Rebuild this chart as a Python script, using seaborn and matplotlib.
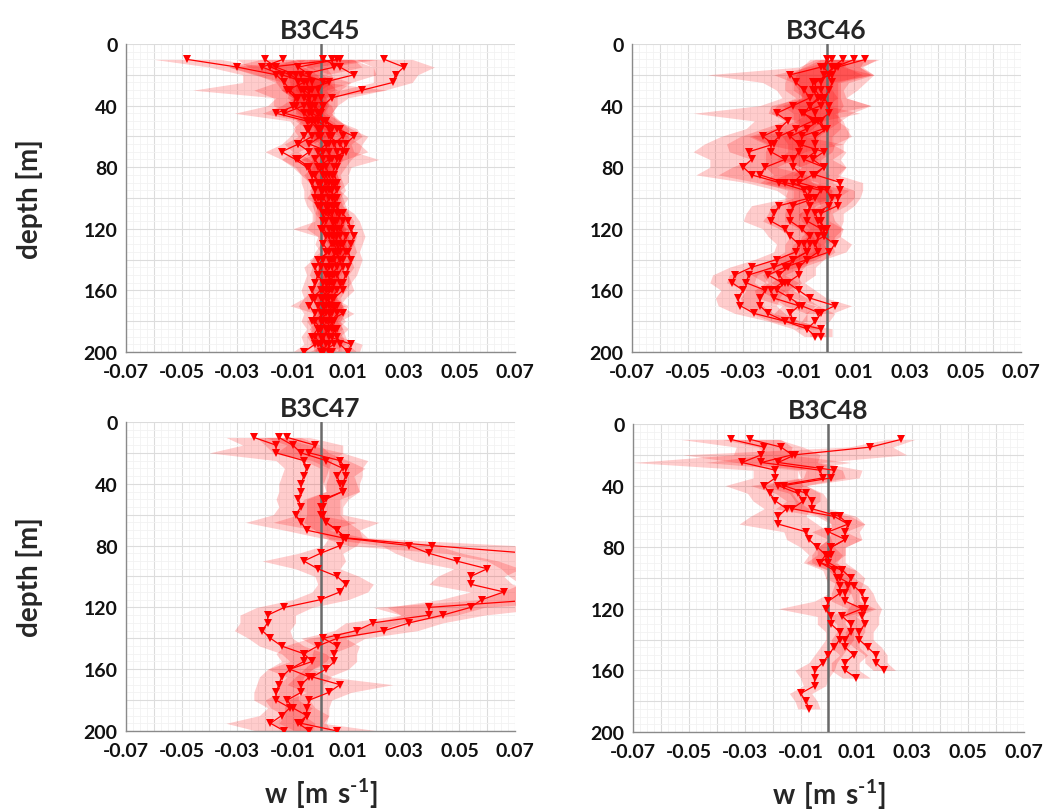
import numpy as np
import seaborn as sns
import matplotlib.pyplot as plt
from matplotlib.ticker import MultipleLocator

# depth of every sample [m]
depth = [10, 15, 20, 25, 30, 35, 40, 45, 50, 55,
         60, 65, 70, 75, 80, 85, 90, 95, 100, 105,
         110, 115, 120, 125, 130, 135, 140, 145, 150, 155,
         160, 165, 170, 175, 180, 185, 190, 195, 200]

######################### B3C45 #############################################
w45_a = [-0.048, -0.030, -0.016, -0.013, -0.011, -0.008, -0.009, -0.016, -0.005, -0.004,
         -0.006, -0.008, -0.014, -0.009, -0.005, -0.003, -0.003, -0.002, -0.002, -0.001,
         0.001, 0.002, 0.001, 0.003, 0.004, 0.002, 0.001, -0.002, -0.001, -0.002,
         -0.003, -0.002, -0.004, -0.002, -0.003, -0.001, -0.003, -0.002, -0.006]
w45_b = [0.023, 0.030, 0.027, 0.026, 0.015, 0.004, 0.001, -0.001, 0.002, 0.006,
         0.012, 0.009, 0.008, 0.006, 0.005, 0.004, 0.005, 0.006, 0.004, 0.005,
         0.008, 0.010, 0.011, 0.012, 0.011, 0.010, 0.011, 0.010, 0.009, 0.008,
         0.006, 0.004, 0.005, 0.006, 0.004, 0.005, 0.006, 0.007, 0.010]
w45_c = [-0.0135, -0.021, -0.014, -0.005, -0.004, -0.004, -0.006, -0.013, -0.002, -0.005,
         -0.003, -0.008, -0.004, -0.008, -0.004, -0.003, 0.000, 0.001, -0.001, 0.002,
         0.003, 0.005, 0.004, 0.006, 0.005, 0.006, 0.004, 0.002, 0.003, 0.004,
         0.002, 0.003, 0.001, 0.002, 0.000, 0.003, 0.001, 0.002, 0.001]
w45_d = [0.001, 0.007, 0.012, 0.001, -0.001, 0.000, 0.001, -0.001, 0.001, 0.007,
         0.008, 0.005, 0.006, 0.007, 0.006, 0.005, 0.006, 0.003, 0.006, 0.004,
         0.006, 0.008, 0.007, 0.009, 0.008, 0.009, 0.007, 0.008, 0.006, 0.007,
         0.008, 0.005, 0.003, 0.008, 0.003, 0.006, 0.003, 0.011, 0.010]
w45_e = [0.007, -0.018, -0.011, -0.006, -0.012, -0.009, -0.010, -0.006, -0.003, 0.000,
         -0.001, 0.002, -0.001, 0.001, 0.001, -0.002, -0.001, 0.001, 0.000, 0.000,
         0.001, 0.001, 0.000, 0.002, 0.001, 0.003, -0.001, 0.000, -0.001, 0.001,
         0.000, -0.003, -0.001, 0.001, -0.002, 0.000, -0.002, 0.000, 0.001]
w45_f = [0.006, -0.008, -0.004, -0.003, -0.003, -0.006, -0.002, 0.000, -0.004, -0.001,
         0.000, -0.004, 0.003, 0.004, 0.002, 0.003, 0.004, 0.004, 0.005, 0.006,
         0.007, 0.006, 0.003, 0.004, 0.006, 0.007, 0.005, 0.006, 0.004, 0.002,
         0.003, 0.000, 0.002, 0.000, 0.001, -0.001, 0.001, -0.001, 0.004]
w45_g = [-0.020, -0.016, -0.009, -0.008, -0.007, -0.004, -0.003, -0.004, -0.001, 0.003,
         0.004, 0.003, 0.001, -0.002, 0.000, 0.002, 0.003, 0.002, 0.003, 0.002,
         0.004, 0.005, 0.006, 0.007, 0.008, 0.006, 0.003, 0.004, 0.005, 0.003,
         0.001, 0.002, 0.004, 0.003, 0.005, 0.002, 0.004, 0.005, 0.000]
w45_h = [0.004, 0.005, -0.007, 0.003, -0.006, -0.002, -0.004, -0.003, 0.002, 0.004,
         0.003, 0.007, 0.009, 0.003, -0.001, 0.001, 0.002, 0.000, 0.001, 0.003,
         0.002, 0.004, 0.005, 0.005, 0.007, 0.005, 0.008, 0.003, 0.002, 0.005,
         0.004, 0.001, 0.006, 0.004, 0.002, 0.004, 0.000, 0.003, 0.003]
# half width of the shaded band (std)
s45_a = [0.012, 0.010, 0.012, 0.015, 0.035, 0.008, 0.010, 0.015, 0.006, 0.005,
         0.005, 0.006, 0.006, 0.005, 0.005, 0.004, 0.004, 0.004, 0.004, 0.004,
         0.004, 0.005, 0.006, 0.004, 0.004, 0.004, 0.004, 0.004, 0.004, 0.004,
         0.004, 0.004, 0.004, 0.004, 0.004, 0.004, 0.004, 0.004, 0.004]
s45_b = [0.010, 0.011, 0.008, 0.007, 0.008, 0.006, 0.005, 0.005, 0.005, 0.005,
         0.005, 0.006, 0.006, 0.005, 0.004, 0.003, 0.003, 0.003, 0.003, 0.003,
         0.004, 0.004, 0.004, 0.004, 0.004, 0.004, 0.004, 0.004, 0.004, 0.003,
         0.003, 0.003, 0.003, 0.003, 0.003, 0.003, 0.003, 0.003, 0.003]
s45_c = [0.008, 0.012, 0.010, 0.008, 0.010, 0.006, 0.008, 0.008, 0.005, 0.005,
         0.005, 0.005, 0.006, 0.006, 0.005, 0.004, 0.004, 0.004, 0.004, 0.003,
         0.004, 0.004, 0.004, 0.004, 0.004, 0.004, 0.004, 0.003, 0.003, 0.003,
         0.003, 0.003, 0.003, 0.003, 0.003, 0.003, 0.003, 0.003, 0.003]
s45_d = [0.010, 0.012, 0.008, 0.010, 0.008, 0.006, 0.005, 0.005, 0.005, 0.006,
         0.007, 0.006, 0.006, 0.014, 0.005, 0.005, 0.004, 0.004, 0.004, 0.004,
         0.004, 0.004, 0.004, 0.004, 0.004, 0.004, 0.004, 0.004, 0.004, 0.004,
         0.004, 0.004, 0.004, 0.004, 0.004, 0.004, 0.004, 0.004, 0.004]
s45_e = [0.012, 0.015, 0.012, 0.010, 0.012, 0.008, 0.007, 0.006, 0.005, 0.004,
         0.004, 0.004, 0.004, 0.004, 0.004, 0.004, 0.003, 0.003, 0.003, 0.003,
         0.003, 0.003, 0.010, 0.003, 0.003, 0.003, 0.003, 0.003, 0.003, 0.003,
         0.003, 0.003, 0.010, 0.003, 0.003, 0.003, 0.003, 0.003, 0.003]
s45_f = [0.015, 0.010, 0.008, 0.008, 0.008, 0.006, 0.006, 0.005, 0.005, 0.004,
         0.004, 0.004, 0.004, 0.004, 0.004, 0.003, 0.003, 0.003, 0.003, 0.003,
         0.003, 0.003, 0.003, 0.003, 0.003, 0.003, 0.003, 0.003, 0.003, 0.003,
         0.003, 0.003, 0.003, 0.003, 0.003, 0.003, 0.003, 0.003, 0.003]
s45_g = [0.010, 0.010, 0.008, 0.008, 0.007, 0.006, 0.006, 0.005, 0.005, 0.005,
         0.006, 0.005, 0.005, 0.005, 0.004, 0.004, 0.004, 0.004, 0.004, 0.004,
         0.004, 0.004, 0.004, 0.004, 0.004, 0.004, 0.004, 0.004, 0.004, 0.004,
         0.004, 0.004, 0.004, 0.004, 0.004, 0.004, 0.004, 0.004, 0.004]
s45_h = [0.008, 0.010, 0.009, 0.008, 0.008, 0.006, 0.006, 0.005, 0.005, 0.006,
         0.007, 0.007, 0.008, 0.006, 0.004, 0.004, 0.004, 0.004, 0.004, 0.004,
         0.004, 0.004, 0.004, 0.004, 0.004, 0.004, 0.004, 0.004, 0.004, 0.004,
         0.004, 0.004, 0.004, 0.004, 0.004, 0.004, 0.004, 0.004, 0.004]

######################### B3C46 #############################################
w46_a = [0.002, -0.002, -0.013, -0.011, -0.008, -0.006, -0.012, -0.018, -0.014, -0.017,
         -0.023, -0.019, -0.028, -0.027, -0.030, -0.027, -0.017, -0.008, -0.006, -0.017,
         -0.019, -0.020, -0.015, -0.013, -0.010, -0.011, -0.018, -0.027, -0.033, -0.034,
         -0.030, -0.032, -0.031, -0.026, -0.015, -0.007, -0.004]
w46_b = [0.006, 0.002, 0.001, -0.005, -0.005, -0.003, -0.006, -0.008, -0.005, -0.011,
         -0.017, -0.020, -0.020, -0.015, -0.022, -0.024, -0.015, -0.002, -0.004, -0.012,
         -0.013, -0.013, -0.009, -0.006, -0.008, -0.007, -0.012, -0.019, -0.028, -0.029,
         -0.022, -0.024, -0.024, -0.021, -0.015, -0.002, -0.002]
w46_c = [0.010, 0.003, -0.001, -0.002, -0.002, -0.001, -0.002, -0.009, -0.002, -0.001,
         -0.009, -0.009, -0.010, -0.012, -0.012, -0.009, -0.012, -0.006, -0.007, -0.006,
         -0.007, -0.007, -0.002, -0.001, -0.006, -0.007, -0.012, -0.014, -0.017, -0.015,
         -0.018, -0.013, -0.009, -0.002, -0.004, -0.007]
w46_d = [0.014, 0.004, 0.002, 0.002, 0.001, -0.001, 0.001, 0.001, -0.003, -0.007,
         -0.013, -0.010, -0.001, -0.005, -0.001, -0.004, 0.005, 0.005, 0.004, 0.004,
         -0.002, -0.002, -0.001, -0.001, 0.003, 0.001, -0.007, -0.010, -0.010, -0.014,
         -0.010, -0.006, 0.003, -0.003]
w46_e = [0.000, -0.001, 0.001, -0.004, -0.004, -0.002, -0.006, -0.004, -0.004, 0.000,
         -0.004, -0.004, -0.004, -0.008, -0.001, -0.005, -0.010, 0.000, 0.002, 0.001,
         -0.004, -0.003, 0.000, -0.003, -0.004, -0.003, -0.007, -0.015, -0.021, -0.016,
         -0.020, -0.019, -0.010, -0.013, -0.012]
s46_a = [0.006, 0.008, 0.030, 0.012, 0.010, 0.010, 0.012, 0.030, 0.012, 0.012,
         0.015, 0.025, 0.020, 0.015, 0.012, 0.020, 0.012, 0.010, 0.008, 0.010,
         0.010, 0.010, 0.008, 0.008, 0.008, 0.008, 0.008, 0.008, 0.008, 0.008,
         0.008, 0.008, 0.008, 0.007, 0.006, 0.005, 0.004]
s46_b = [0.008, 0.010, 0.015, 0.010, 0.010, 0.008, 0.012, 0.012, 0.010, 0.012,
         0.014, 0.016, 0.015, 0.012, 0.012, 0.015, 0.010, 0.010, 0.008, 0.008,
         0.008, 0.010, 0.008, 0.007, 0.007, 0.008, 0.008, 0.008, 0.007, 0.007,
         0.007, 0.007, 0.006, 0.006, 0.005, 0.004, 0.004]
s46_c = [0.008, 0.010, 0.018, 0.010, 0.008, 0.008, 0.018, 0.012, 0.008, 0.008,
         0.018, 0.012, 0.012, 0.010, 0.010, 0.010, 0.012, 0.008, 0.008, 0.008,
         0.008, 0.008, 0.008, 0.006, 0.006, 0.006, 0.006, 0.006, 0.006, 0.006,
         0.006, 0.006, 0.006, 0.005, 0.005, 0.004]
s46_d = [0.005, 0.008, 0.015, 0.012, 0.010, 0.008, 0.015, 0.008, 0.008, 0.012,
         0.015, 0.012, 0.008, 0.010, 0.008, 0.008, 0.008, 0.008, 0.008, 0.006,
         0.008, 0.008, 0.006, 0.006, 0.006, 0.006, 0.006, 0.006, 0.006, 0.006,
         0.006, 0.006, 0.006, 0.005]
s46_e = [0.006, 0.008, 0.012, 0.008, 0.008, 0.006, 0.010, 0.008, 0.008, 0.008,
         0.012, 0.010, 0.010, 0.010, 0.008, 0.010, 0.012, 0.010, 0.008, 0.006,
         0.006, 0.006, 0.006, 0.006, 0.006, 0.006, 0.006, 0.006, 0.006, 0.006,
         0.006, 0.006, 0.006, 0.006, 0.005]

######################### B3C47 #############################################
w47_a = [-0.024, -0.016, -0.016, -0.006, -0.005, -0.006, -0.007, -0.007, -0.008, -0.007,
         -0.009, -0.007, -0.005, 0.008, 0.032, 0.039, 0.049, 0.060, 0.054, 0.054,
         0.066, 0.058, 0.054, 0.044, 0.032, 0.023, 0.006, -0.001, -0.006, -0.006,
         -0.011, -0.014, -0.015, -0.016, -0.016, -0.011, -0.014, -0.018, -0.013]
w47_b = [-0.015, -0.010, -0.007, 0.002, 0.008, 0.006, 0.007, 0.008, 0.002, 0.000,
         0.000, 0.002, 0.006, 0.009, 0.040, 0.075, 0.085, 0.090, 0.088, 0.092,
         0.085, 0.078, 0.039, 0.039, 0.019, 0.013, 0.001, 0.006, 0.005, 0.005,
         0.002, -0.003, 0.007, 0.003, -0.004, -0.005, -0.005, -0.007, 0.006]
w47_c = [-0.012, -0.002, -0.004, 0.007, 0.009, 0.009, 0.008, 0.008, 0.001, 0.001,
         0.001, 0.002, 0.006, 0.009, 0.007, 0.000, -0.006, -0.001, 0.006, 0.009,
         0.007, 0.000, -0.013, -0.019, -0.019, -0.021, -0.018, -0.014, -0.006, -0.003,
         -0.011, -0.004, -0.007, -0.007, -0.012, -0.010, -0.005, -0.008, -0.004]
s47_a = [0.010, 0.012, 0.024, 0.010, 0.008, 0.008, 0.008, 0.008, 0.008, 0.008,
         0.008, 0.020, 0.008, 0.008, 0.010, 0.012, 0.015, 0.012, 0.012, 0.015,
         0.012, 0.015, 0.030, 0.015, 0.012, 0.012, 0.010, 0.012, 0.010, 0.008,
         0.008, 0.008, 0.008, 0.008, 0.008, 0.008, 0.008, 0.016, 0.010]
s47_b = [0.008, 0.010, 0.010, 0.008, 0.008, 0.006, 0.006, 0.006, 0.008, 0.008,
         0.008, 0.019, 0.008, 0.008, 0.030, 0.030, 0.025, 0.025, 0.020, 0.020,
         0.020, 0.020, 0.020, 0.010, 0.010, 0.008, 0.008, 0.008, 0.008, 0.008,
         0.008, 0.006, 0.019, 0.008, 0.008, 0.008, 0.008, 0.008, 0.015]
s47_c = [0.008, 0.010, 0.012, 0.010, 0.006, 0.006, 0.006, 0.006, 0.006, 0.006,
         0.006, 0.008, 0.008, 0.006, 0.006, 0.008, 0.015, 0.008, 0.008, 0.010,
         0.010, 0.010, 0.010, 0.010, 0.010, 0.010, 0.008, 0.008, 0.008, 0.008,
         0.008, 0.008, 0.008, 0.008, 0.008, 0.008, 0.008, 0.010, 0.008]

######################### B3C48 #############################################
w48_a = [-0.035, -0.023, -0.024, -0.031, -0.019, -0.019, -0.023, -0.021, -0.019, -0.015,
         -0.018, -0.018, -0.008, -0.007, -0.004, -0.001, -0.003, 0.002, 0.003, 0.004,
         0.004, 0.000, -0.001, 0.001, 0.001, 0.004, 0.004, 0.002, 0.000, -0.002,
         -0.005, -0.005, -0.005, -0.010, -0.008, -0.007]
w48_b = [-0.028, -0.017, -0.013, -0.024, -0.003, -0.002, -0.018, -0.011, -0.009, -0.013,
         0.002, 0.007, 0.000, 0.006, 0.001, 0.000, 0.000, 0.005, 0.008, 0.007,
         0.006, 0.006, 0.012, 0.005, 0.008, 0.008, 0.006, 0.006, 0.009, 0.006,
         0.006, 0.010]
w48_c = [0.026, 0.015, -0.012, -0.018, 0.002, 0.001, -0.016, -0.008, -0.006, -0.006,
         0.004, 0.007, 0.006, 0.006, 0.001, 0.001, -0.003, 0.005, 0.004, 0.009,
         0.012, 0.013, 0.013, 0.012, 0.013, 0.011, 0.011, 0.014, 0.017, 0.017,
         0.020]
s48_a = [0.018, 0.010, 0.010, 0.039, 0.008, 0.008, 0.014, 0.008, 0.008, 0.008,
         0.010, 0.014, 0.008, 0.008, 0.006, 0.006, 0.006, 0.004, 0.004, 0.004,
         0.004, 0.005, 0.017, 0.005, 0.005, 0.005, 0.005, 0.005, 0.005, 0.005,
         0.007, 0.005, 0.004, 0.004, 0.004, 0.004]
s48_b = [0.010, 0.008, 0.010, 0.020, 0.008, 0.008, 0.010, 0.008, 0.006, 0.006,
         0.006, 0.006, 0.006, 0.006, 0.005, 0.006, 0.006, 0.005, 0.005, 0.005,
         0.005, 0.005, 0.005, 0.005, 0.005, 0.005, 0.005, 0.005, 0.005, 0.005,
         0.005, 0.005]
s48_c = [0.005, 0.008, 0.040, 0.015, 0.010, 0.010, 0.008, 0.006, 0.006, 0.006,
         0.006, 0.006, 0.005, 0.006, 0.005, 0.005, 0.005, 0.005, 0.005, 0.005,
         0.004, 0.004, 0.006, 0.006, 0.005, 0.005, 0.005, 0.005, 0.004, 0.004,
         0.004]

panels = [
    ("B3C45", [w45_a, w45_b, w45_c, w45_d, w45_e, w45_f, w45_g, w45_h],
              [s45_a, s45_b, s45_c, s45_d, s45_e, s45_f, s45_g, s45_h]),
    ("B3C46", [w46_a, w46_b, w46_c, w46_d, w46_e],
              [s46_a, s46_b, s46_c, s46_d, s46_e]),
    ("B3C47", [w47_a, w47_b, w47_c], [s47_a, s47_b, s47_c]),
    ("B3C48", [w48_a, w48_b, w48_c], [s48_a, s48_b, s48_c]),
]

x_ticks = [-0.07, -0.06, -0.05, -0.04, -0.03, -0.02, -0.01, 0.0,
           0.01, 0.02, 0.03, 0.04, 0.05, 0.06, 0.07]
x_labels = ["-0.07", "", "-0.05", "", "-0.03", "", "-0.01", "",
            "0.01", "", "0.03", "", "0.05", "", "0.07"]
y_ticks = [0, 20, 40, 60, 80, 100, 120, 140, 160, 180, 200]
y_labels = ["0", "", "40", "", "80", "", "120", "", "160", "", "200"]

sns.set_style("whitegrid")
plt.rcParams['font.family'] = ['Lato', 'DejaVu Sans']
plt.rcParams['font.weight'] = 'bold'
plt.rcParams['mathtext.fontset'] = 'custom'
plt.rcParams['mathtext.rm'] = 'Lato:bold'
plt.rcParams['mathtext.bf'] = 'Lato:bold'
plt.rcParams['mathtext.default'] = 'bf'

fig = plt.figure(figsize=(10.44, 8.12), dpi=100)
rects = [[0.1207, 0.5653, 0.3726, 0.3793],
         [0.6054, 0.5653, 0.3726, 0.3793],
         [0.1207, 0.0985, 0.3726, 0.3806],
         [0.6063, 0.0973, 0.3745, 0.3793]]

for i, (title, ws, ss) in enumerate(panels):
    ax = fig.add_axes(rects[i])
    ax.axvline(0, color='#6a6a6a', lw=1.8, zorder=3)
    for w, s in zip(ws, ss):
        n = min(len(w), len(s))
        d = np.array(depth[:n])
        w = np.array(w[:n])
        s = np.array(s[:n])
        ax.fill_betweenx(d, w - s, w + s, color='red', alpha=0.2, lw=0, zorder=2)
        sns.lineplot(x=w, y=d, orient='y', sort=False, estimator=None, color='red',
                     lw=0.9, marker='v', markersize=5.5, markeredgewidth=0,
                     ax=ax, zorder=4)

    ax.set_xlim(-0.07, 0.07)
    ax.set_ylim(200, 0)
    ax.set_xticks(x_ticks)
    ax.set_xticklabels(x_labels)
    ax.set_yticks(y_ticks)
    ax.set_yticklabels(y_labels)
    ax.xaxis.set_minor_locator(MultipleLocator(0.0025))
    ax.yaxis.set_minor_locator(MultipleLocator(5))
    ax.grid(which='major', color='#dcdcdc', lw=0.8)
    ax.grid(which='minor', color='#f2f2f2', lw=0.6)
    ax.set_axisbelow(True)
    for side in ['top', 'right']:
        ax.spines[side].set_visible(False)
    for side in ['left', 'bottom']:
        ax.spines[side].set_color('#8a8a8a')
        ax.spines[side].set_linewidth(1.0)
    ax.tick_params(which='major', direction='in', length=3, color='#8a8a8a',
                   labelsize=14, labelcolor='#111111')
    ax.tick_params(axis='x', which='major', pad=8)
    ax.tick_params(axis='y', which='major', pad=6)
    ax.tick_params(which='minor', length=0)
    ax.set_title(title, fontsize=19, fontweight='bold', pad=4)
    ax.set_xlabel("")
    ax.set_ylabel("")
    if i % 2 == 0:
        ax.set_ylabel("depth [m]", fontsize=20, fontweight='bold')
        ax.yaxis.set_label_coords(-0.213, 0.5)
    if i >= 2:
        ax.set_xlabel(r"$\mathbf{w\ [m\ s^{\text{-}1}]}$", fontsize=20)
        ax.xaxis.set_label_coords(0.5, -0.146)

fig.savefig("out.png", dpi=100)
